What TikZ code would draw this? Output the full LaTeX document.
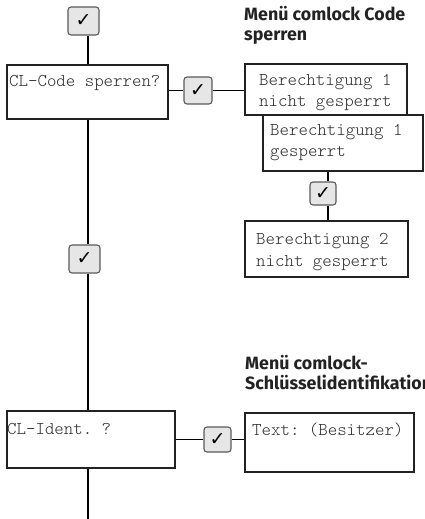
\documentclass[tikz,border=0pt]{standalone}
\usepackage{fontspec}
\setmonofont{Latin Modern Mono Light}
\newfontfamily\headfont{Fira Sans}
\newfontfamily\symfont{DejaVu Sans}
\definecolor{frame}{HTML}{222222}
\definecolor{chkfill}{HTML}{E6E6E6}
\definecolor{chkline}{HTML}{5A5A5A}
\definecolor{txt}{HTML}{2A2A2A}
\begin{document}
\begin{tikzpicture}[x=1pt,y=-1pt,
  box/.style={draw=frame,line width=2.2pt,inner sep=0pt,fill=none},
  chk/.style={draw=chkline,fill=chkfill,line width=1.1pt,rounded corners=3pt,inner sep=0pt,font=\symfont\bfseries\fontsize{19}{19}\selectfont},
  conn/.style={draw=black,line width=1.2pt},
  mono/.style={anchor=base west,inner sep=0pt,text=txt,font=\ttfamily\fontsize{18}{21}\selectfont},
  head/.style={anchor=base west,inner sep=0pt,text=frame,font=\headfont\bfseries\fontsize{17.8}{20}\selectfont}]
\useasboundingbox (0,0) rectangle (424,519);
% coordinates for vertical lines
\coordinate (v) at (88,0);
\coordinate (bot) at (88,519);
\coordinate (w) at (328,0);
% boxes
\node[box,minimum width=161pt,minimum height=54pt] (cl) at (87.5,92) {};
\node[box,minimum width=162pt,minimum height=51pt] (b1n) at (326,89.5) {};
\node[box,minimum width=160pt,minimum height=56pt] (b1g) at (343,143) {};
\node[box,minimum width=163pt,minimum height=56pt] (b2n) at (326.5,249) {};
\node[box,minimum width=168pt,minimum height=57pt] (cli) at (91,439.5) {};
\node[box,minimum width=169pt,minimum height=59pt] (tb) at (329.5,442.5) {};
% check boxes
\node[chk,minimum width=31pt,minimum height=28pt] (c1) at (83.5,21) {✓};
\node[chk,minimum width=28pt,minimum height=27pt] (c2) at (198,90.5) {✓};
\node[chk,minimum width=26pt,minimum height=23pt] (c3) at (323,193.5) {✓};
\node[chk,minimum width=31pt,minimum height=28pt] (c4) at (84.5,259) {✓};
\node[chk,minimum width=27pt,minimum height=25pt] (c5) at (217.5,439.5) {✓};
% connectors
\draw[conn] (c1.south -| v) -- (cl.north -| v);
\draw[conn] (cl.south -| v) -- (c4.north -| v);
\draw[conn] (c4.south -| v) -- (cli.north -| v);
\draw[conn] (cli.south -| v) -- (bot);
\draw[conn] (cl.east |- c2.west) -- (c2.west);
\draw[conn] (c2.east) -- (b1n.west |- c2.east);
\draw[conn] (b1g.south -| w) -- (c3.north -| w);
\draw[conn] (c3.south -| w) -- (b2n.north -| w);
\draw[conn] (cli.east |- c5.west) -- (c5.west);
\draw[conn] (c5.east) -- (tb.west |- c5.east);
% texts
\node[mono] (t1) at (9,86) {CL-Code sperren?};
\node[mono] (t2a) at (259,85) {Berechtigung 1};
\node[mono] (t2b) at (259,106) {nicht gesperrt};
\node[mono] (t3a) at (270,135) {Berechtigung 1};
\node[mono] (t3b) at (270,156) {gesperrt};
\node[mono] (t4a) at (256,244) {Berechtigung 2};
\node[mono] (t4b) at (256,266) {nicht gesperrt};
\node[mono] (t5) at (7,434) {CL-Ident. ?};
\node[mono] (t6) at (252,435) {Text: (Besitzer)};
\node[head] (h1a) at (244,21) {Menü comlock Code};
\node[head] (h1b) at (244,41) {sperren};
\node[head] (h2a) at (245,369) {Menü comlock-};
\node[head] (h2b) at (245,389) {Schlüsselidentifikation};
\end{tikzpicture}
\end{document}
